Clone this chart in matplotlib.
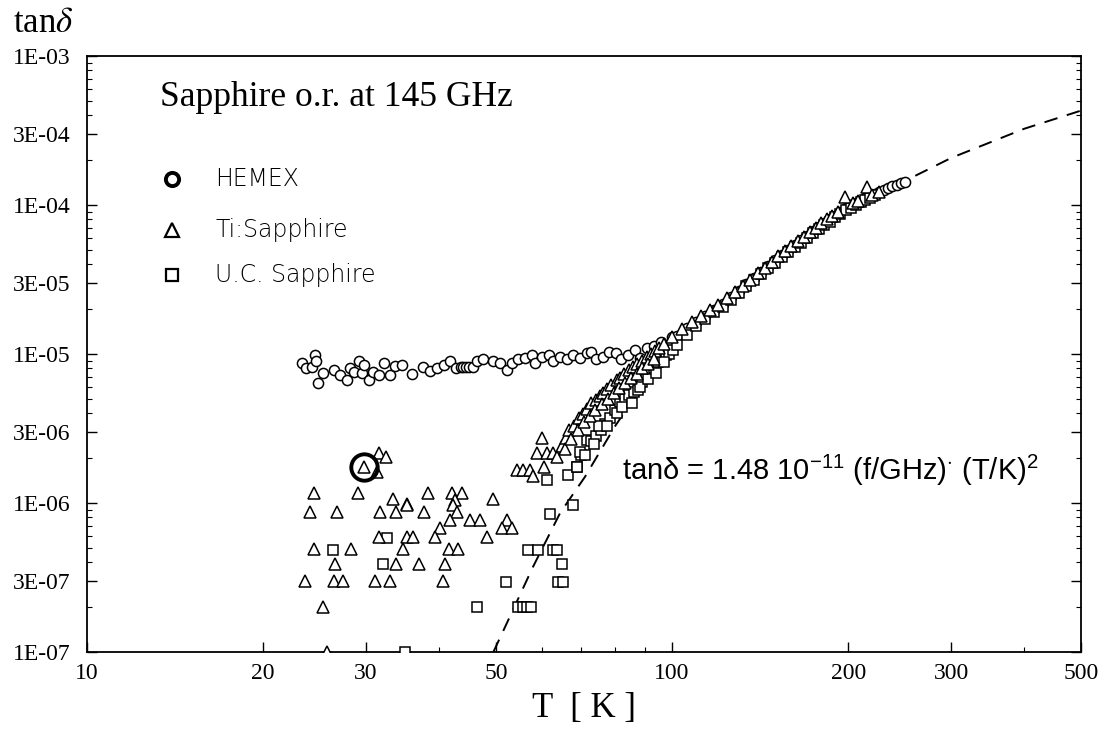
import matplotlib
matplotlib.use("Agg")
import matplotlib.pyplot as plt
from matplotlib.ticker import FixedLocator, FixedFormatter, LogLocator, NullFormatter

# ---- data (T in K, tan delta) ----
# HEMEX: flat part + the common band above 100 K
hemex_T = [23.3, 23.7, 24.2, 24.5, 24.6, 24.8, 25.3, 26.4, 27.1, 27.8, 28.2, 28.6,
           29.2, 29.5, 29.8, 30.3, 30.8, 31.5, 32.2, 33.0, 33.6, 34.5, 36.0, 37.5,
           38.6, 39.7, 40.7, 41.7, 42.7, 43.5, 44.0, 44.5, 45.0, 45.6, 46.4, 47.6,
           49.5, 50.8, 52.2, 53.2, 54.6, 56.1, 57.6, 58.3, 59.9, 61.5, 62.7, 64.4,
           66.1, 67.8, 69.6, 71.5, 72.8, 74.2, 76.1, 78.1, 80.2, 81.8, 84.0, 86.4,
           88.2, 90.6, 93.2, 95.9, 99.9]
hemex_y = [8.66e-6, 8.0e-6, 8.2e-6, 9.85e-6, 9.0e-6, 6.4e-6, 7.5e-6, 7.8e-6, 7.2e-6,
           6.7e-6, 8.0e-6, 7.6e-6, 9.0e-6, 7.5e-6, 8.4e-6, 6.7e-6, 7.6e-6, 7.2e-6,
           8.7e-6, 7.2e-6, 8.3e-6, 8.5e-6, 7.3e-6, 8.2e-6, 7.7e-6, 8.1e-6, 8.4e-6,
           9.0e-6, 8.1e-6, 8.2e-6, 8.2e-6, 8.2e-6, 8.2e-6, 8.2e-6, 9.0e-6, 9.2e-6,
           9.0e-6, 8.7e-6, 7.8e-6, 8.7e-6, 9.2e-6, 9.4e-6, 9.85e-6, 8.7e-6, 9.6e-6,
           9.85e-6, 9.0e-6, 9.6e-6, 9.2e-6, 9.85e-6, 9.4e-6, 1.01e-5, 1.03e-5, 9.2e-6,
           9.6e-6, 1.03e-5, 1.01e-5, 9.2e-6, 9.85e-6, 1.06e-5, 9.4e-6, 1.09e-5,
           1.14e-5, 1.2e-5, 1.3e-5]
hemex_band_T = [102, 106, 110, 114, 118, 122, 126, 130, 134, 138, 142, 146, 150, 154,
                158, 162, 166, 170, 174, 178, 182, 186, 190, 194, 198, 202, 206, 210,
                214, 218, 222, 226, 230, 234, 238, 242, 246, 250]
hemex_band_y = [1.33e-5, 1.49e-5, 1.65e-5, 1.81e-5, 1.97e-5, 2.17e-5, 2.41e-5, 2.65e-5,
                2.93e-5, 3.24e-5, 3.56e-5, 3.89e-5, 4.25e-5, 4.61e-5, 5.0e-5, 5.4e-5,
                5.8e-5, 6.2e-5, 6.7e-5, 7.1e-5, 7.55e-5, 8.0e-5, 8.5e-5, 9.0e-5, 9.5e-5,
                9.9e-5, 1.03e-4, 1.07e-4, 1.11e-4, 1.15e-4, 1.19e-4, 1.22e-4, 1.26e-4,
                1.30e-4, 1.34e-4, 1.37e-4, 1.40e-4, 1.43e-4]

# Ti:Sapphire: scattered low points, rising branch, band
ti_low_T = [31.5, 32.5, 29.7, 31.3, 24.4, 29.1, 33.4, 38.3, 42.0, 43.7, 49.5, 35.3, 42.6,
            24.1, 26.7, 31.7, 33.8, 35.3, 37.7, 42.3, 42.9, 41.7, 45.2, 47.0, 40.1, 52.2,
            51.2, 53.2, 39.3, 31.5, 35.2, 36.1, 48.2, 24.4, 28.3, 34.7, 41.5, 43.1, 26.5,
            33.8, 36.9, 41.0, 23.6, 26.4, 27.4, 31.1, 33.0, 40.6, 25.3, 25.7,
            59.9, 58.7, 61.1, 54.3, 55.7, 57.2, 57.9, 60.3]
ti_low_y = [2.16e-6, 2.05e-6, 1.75e-6, 1.62e-6, 1.16e-6, 1.16e-6, 1.07e-6, 1.16e-6,
            1.16e-6, 1.16e-6, 1.06e-6, 9.9e-7, 1.05e-6, 8.7e-7, 8.7e-7, 8.7e-7, 8.7e-7,
            9.7e-7, 8.7e-7, 9.7e-7, 8.7e-7, 7.7e-7, 7.7e-7, 7.7e-7, 6.8e-7, 7.7e-7,
            6.8e-7, 6.8e-7, 5.9e-7, 5.9e-7, 5.9e-7, 5.9e-7, 5.9e-7, 4.9e-7, 4.9e-7,
            4.9e-7, 4.9e-7, 4.9e-7, 3.9e-7, 3.9e-7, 3.9e-7, 3.9e-7, 3.0e-7, 3.0e-7,
            3.0e-7, 3.0e-7, 3.0e-7, 3.0e-7, 2.0e-7, 1.0e-7,
            2.72e-6, 2.16e-6, 2.16e-6, 1.67e-6, 1.67e-6, 1.67e-6, 1.52e-6, 1.75e-6]
ti_rise_T = [62.7, 64.8, 66.0, 66.7, 68.0, 69.4, 70.5, 71.5, 72.8, 74.0, 75.2, 76.3, 77.5,
             78.8, 80.4, 81.5, 82.8, 84.4, 85.8, 87.2, 88.8, 90.5, 92.0, 93.5, 95.0, 97.0,
             63.5, 65.5, 67.3, 69.0, 70.8, 72.3, 73.8, 75.8, 77.8, 79.6, 81.2, 83.2, 85.2,
             87.0, 89.0, 91.0, 93.0]
ti_rise_y = [2.16e-6, 2.4e-6, 2.75e-6, 3.1e-6, 3.3e-6, 3.7e-6, 3.95e-6, 4.3e-6, 4.7e-6,
             4.95e-6, 5.25e-6, 5.5e-6, 5.85e-6, 6.2e-6, 6.7e-6, 6.95e-6, 7.3e-6, 7.8e-6,
             8.2e-6, 8.6e-6, 9.0e-6, 9.5e-6, 1.0e-5, 1.05e-5, 1.1e-5, 1.17e-5,
             2.05e-6, 2.3e-6, 2.7e-6, 3.1e-6, 3.5e-6, 3.85e-6, 4.2e-6, 4.6e-6, 5.0e-6,
             5.5e-6, 5.9e-6, 6.4e-6, 6.9e-6, 7.4e-6, 8.0e-6, 8.6e-6, 9.3e-6]
ti_band_T = [100, 104, 108, 112, 116, 120, 124, 128, 132, 136, 140, 144, 148, 152, 156,
             160, 164, 168, 172, 176, 180, 184, 188, 192, 197.7, 204, 208, 215, 220, 226]
ti_band_y = [1.3e-5, 1.47e-5, 1.63e-5, 1.8e-5, 1.97e-5, 2.12e-5, 2.36e-5, 2.6e-5, 2.88e-5,
             3.15e-5, 3.5e-5, 3.8e-5, 4.15e-5, 4.55e-5, 4.9e-5, 5.3e-5, 5.7e-5, 6.1e-5,
             6.6e-5, 7.0e-5, 7.6e-5, 8.0e-5, 8.5e-5, 9.0e-5, 1.14e-4, 1.03e-4, 1.07e-4,
             1.33e-4, 1.16e-4, 1.22e-4]

# U.C. Sapphire: scattered low points, rising branch, band
uc_low_T = [61.1, 66.4, 68.7, 61.9, 67.8, 32.6, 26.3, 56.8, 59.1, 62.7, 63.5, 32.1, 64.8,
            52.0, 63.9, 65.2, 46.4, 54.6, 55.6, 56.4, 57.4, 35.0]
uc_low_y = [1.43e-6, 1.54e-6, 1.75e-6, 8.5e-7, 9.7e-7, 5.8e-7, 4.84e-7, 4.84e-7, 4.84e-7,
            4.84e-7, 4.84e-7, 3.9e-7, 3.9e-7, 2.94e-7, 2.94e-7, 2.94e-7, 2.0e-7, 2.0e-7,
            2.0e-7, 2.0e-7, 2.0e-7, 1.0e-7]
uc_rise_T = [68.7, 70.0, 71.5, 72.8, 74.2, 75.5, 76.8, 78.3, 79.8, 81.5, 83.0, 84.5, 86.0,
             87.3, 88.8, 90.2, 91.6, 93.0, 94.5, 96.0, 97.5, 99.0, 100.4,
             69.5, 71.0, 73.5, 75.0, 77.5, 80.5, 82.2, 85.3, 88.0, 90.8, 93.8, 96.8]
uc_rise_y = [1.75e-6, 2.1e-6, 2.65e-6, 2.6e-6, 2.8e-6, 3.1e-6, 3.4e-6, 3.7e-6, 4.2e-6,
             4.8e-6, 5.0e-6, 5.3e-6, 5.6e-6, 5.73e-6, 6.5e-6, 7.5e-6, 8.7e-6, 8.0e-6,
             8.9e-6, 9.4e-6, 9.9e-6, 1.0e-5, 1.06e-5,
             2.2e-6, 2.1e-6, 2.5e-6, 3.3e-6, 3.3e-6, 4.0e-6, 4.4e-6, 4.7e-6, 6.0e-6,
             6.8e-6, 7.5e-6, 8.8e-6]
uc_band_T = [102, 106, 110, 114, 118, 122, 126, 130, 134, 138, 142, 146, 150, 154, 158,
             162, 166, 170, 174, 178, 182, 186, 190, 194, 198, 202, 206, 210, 214, 218, 222]
uc_band_y = [1.15e-5, 1.35e-5, 1.55e-5, 1.72e-5, 1.9e-5, 2.08e-5, 2.3e-5, 2.55e-5,
             2.85e-5, 3.12e-5, 3.45e-5, 3.75e-5, 4.1e-5, 4.45e-5, 4.85e-5, 5.2e-5,
             5.6e-5, 6.0e-5, 6.45e-5, 6.9e-5, 7.3e-5, 7.75e-5, 8.25e-5, 8.7e-5, 9.2e-5,
             9.6e-5, 1.0e-4, 1.04e-4, 1.08e-4, 1.12e-4, 1.16e-4]

# dashed fit curve
fit_T = [49.5, 52.5, 57.8, 64.4, 71, 80, 90, 100, 120, 150, 200, 250, 300, 400, 500]
fit_y = [1e-7, 1.64e-7, 3.7e-7, 8.6e-7, 1.5e-6, 3.3e-6, 6.5e-6, 1.1e-5, 2.0e-5, 4.0e-5,
         9.5e-5, 1.45e-4, 2.07e-4, 3.25e-4, 4.3e-4]

# circled point
mark_T, mark_y = 29.7, 1.75e-6

x_ticks = [10, 20, 30, 50, 100, 200, 300, 500]
x_labels = ["10", "20", "30", "50", "100", "200", "300", "500"]
y_ticks = [1e-7, 3e-7, 1e-6, 3e-6, 1e-5, 3e-5, 1e-4, 3e-4, 1e-3]
y_labels = ["1E-07", "3E-07", "1E-06", "3E-06", "1E-05", "3E-05", "1E-04", "3E-04", "1E-03"]

plt.rcParams['font.family'] = ['Liberation Serif', 'DejaVu Serif']
plt.rcParams['mathtext.fontset'] = 'custom'
plt.rcParams['mathtext.rm'] = 'Liberation Sans'
plt.rcParams['mathtext.it'] = 'Liberation Sans:italic'

fig = plt.figure(figsize=(11.01, 7.36), dpi=100)
ax = fig.add_axes([0.079, 0.1141, 0.9028, 0.8098])
ax.set_xscale('log')
ax.set_yscale('log')

ax.plot(fit_T, fit_y, color='black', lw=1.4, ls=(0, (7, 5)), zorder=1)

mk = dict(ls='none', mfc='white', mec='black', mew=1.1, zorder=3)
ax.plot(hemex_T + hemex_band_T, hemex_y + hemex_band_y, marker='o', ms=7.3, **mk)
ax.plot(uc_low_T + uc_rise_T + uc_band_T, uc_low_y + uc_rise_y + uc_band_y,
        marker='s', ms=6.5, **mk)
ax.plot(ti_low_T + ti_rise_T + ti_band_T, ti_low_y + ti_rise_y + ti_band_y,
        marker='^', ms=8, **mk)
ax.plot([mark_T], [mark_y], ls='none', marker='o', ms=19, mfc='none', mec='black',
        mew=2.8, zorder=4)

ax.set_xlim(10, 500)
ax.set_ylim(1e-7, 1e-3)

ax.xaxis.set_major_locator(FixedLocator(x_ticks))
ax.xaxis.set_major_formatter(FixedFormatter(x_labels))
ax.xaxis.set_minor_locator(LogLocator(base=10, subs=range(2, 10)))
ax.xaxis.set_minor_formatter(NullFormatter())
ax.yaxis.set_major_locator(FixedLocator(y_ticks))
ax.yaxis.set_major_formatter(FixedFormatter(y_labels))
ax.yaxis.set_minor_locator(LogLocator(base=10, subs=range(2, 10)))
ax.yaxis.set_minor_formatter(NullFormatter())

ax.tick_params(which='both', direction='in', top=False, right=True, labelsize=17)
ax.tick_params(which='major', length=7, width=1.0)
ax.tick_params(which='minor', length=3.5, width=0.8)
ax.tick_params(axis='y', pad=12)
ax.tick_params(axis='x', pad=8)
for s in ax.spines.values():
    s.set_linewidth(1.3)

ax.set_xlabel("T  [ K ]", fontsize=25, labelpad=6)
fig.text(13 / 1101, 1 - 24 / 736, r"tan$\delta$", fontsize=25, ha='left', va='center',
         math_fontfamily='stix')

ax.text(0.073, 0.931, "Sapphire o.r. at 145 GHz", transform=ax.transAxes,
        fontsize=25.5, ha='left', va='center')

# legend drawn by hand
leg_x, txt_x = 0.086, 0.129
leg = [(0.793, 'o', 9.5, 2.8, "HEMEX"),
       (0.708, '^', 10.5, 1.6, "Ti:Sapphire"),
       (0.632, 's', 8, 1.6, "U.C. Sapphire")]
for yy, m, ms, mew, lab in leg:
    ax.plot([leg_x], [yy], transform=ax.transAxes, marker=m, ms=ms, mfc='none',
            mec='black', mew=mew, ls='none', clip_on=False)
    ax.text(txt_x, yy, lab, transform=ax.transAxes, fontsize=17,
            family=['DejaVu Sans'], fontweight='light', ha='left', va='center')

ax.text(0.538, 0.305, r"tanδ = 1.48 10$^{-11}$ (f/GHz)$^{\cdot}$ (T/K)$^{2}$",
        transform=ax.transAxes, fontsize=21, family=['Liberation Sans'],
        math_fontfamily='custom', ha='left', va='center')

fig.savefig("out.png", dpi=100)
